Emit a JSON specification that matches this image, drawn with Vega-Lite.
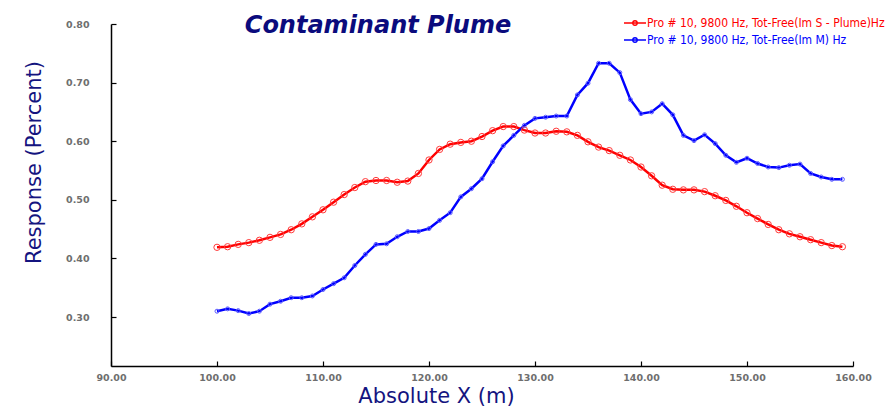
{
  "$schema": "https://vega.github.io/schema/vega-lite/v6.json",
  "width": 742,
  "height": 342,
  "autosize": {"type": "none"},
  "padding": {"left": 111, "top": 24, "right": 39, "bottom": 42},
  "background": "white",
  "config": {"view": {"stroke": null}},
  "title": {
    "text": "Contaminant Plume",
    "font": "DejaVu Sans",
    "fontSize": 24,
    "fontStyle": "italic",
    "fontWeight": "bold",
    "color": "#0b0b7d",
    "anchor": "middle",
    "frame": "group",
    "baseline": "alphabetic",
    "offset": 0,
    "dx": -104,
    "dy": 40
  },
  "data": {
    "values": [
      {"x":100,"y":0.419,"series":"Pro # 10, 9800 Hz, Tot-Free(Im S - Plume)Hz"},
      {"x":101,"y":0.420,"series":"Pro # 10, 9800 Hz, Tot-Free(Im S - Plume)Hz"},
      {"x":102,"y":0.424,"series":"Pro # 10, 9800 Hz, Tot-Free(Im S - Plume)Hz"},
      {"x":103,"y":0.427,"series":"Pro # 10, 9800 Hz, Tot-Free(Im S - Plume)Hz"},
      {"x":104,"y":0.431,"series":"Pro # 10, 9800 Hz, Tot-Free(Im S - Plume)Hz"},
      {"x":105,"y":0.436,"series":"Pro # 10, 9800 Hz, Tot-Free(Im S - Plume)Hz"},
      {"x":106,"y":0.441,"series":"Pro # 10, 9800 Hz, Tot-Free(Im S - Plume)Hz"},
      {"x":107,"y":0.449,"series":"Pro # 10, 9800 Hz, Tot-Free(Im S - Plume)Hz"},
      {"x":108,"y":0.459,"series":"Pro # 10, 9800 Hz, Tot-Free(Im S - Plume)Hz"},
      {"x":109,"y":0.471,"series":"Pro # 10, 9800 Hz, Tot-Free(Im S - Plume)Hz"},
      {"x":110,"y":0.483,"series":"Pro # 10, 9800 Hz, Tot-Free(Im S - Plume)Hz"},
      {"x":111,"y":0.496,"series":"Pro # 10, 9800 Hz, Tot-Free(Im S - Plume)Hz"},
      {"x":112,"y":0.509,"series":"Pro # 10, 9800 Hz, Tot-Free(Im S - Plume)Hz"},
      {"x":113,"y":0.521,"series":"Pro # 10, 9800 Hz, Tot-Free(Im S - Plume)Hz"},
      {"x":114,"y":0.531,"series":"Pro # 10, 9800 Hz, Tot-Free(Im S - Plume)Hz"},
      {"x":115,"y":0.533,"series":"Pro # 10, 9800 Hz, Tot-Free(Im S - Plume)Hz"},
      {"x":116,"y":0.533,"series":"Pro # 10, 9800 Hz, Tot-Free(Im S - Plume)Hz"},
      {"x":117,"y":0.530,"series":"Pro # 10, 9800 Hz, Tot-Free(Im S - Plume)Hz"},
      {"x":118,"y":0.532,"series":"Pro # 10, 9800 Hz, Tot-Free(Im S - Plume)Hz"},
      {"x":119,"y":0.545,"series":"Pro # 10, 9800 Hz, Tot-Free(Im S - Plume)Hz"},
      {"x":120,"y":0.568,"series":"Pro # 10, 9800 Hz, Tot-Free(Im S - Plume)Hz"},
      {"x":121,"y":0.586,"series":"Pro # 10, 9800 Hz, Tot-Free(Im S - Plume)Hz"},
      {"x":122,"y":0.595,"series":"Pro # 10, 9800 Hz, Tot-Free(Im S - Plume)Hz"},
      {"x":123,"y":0.598,"series":"Pro # 10, 9800 Hz, Tot-Free(Im S - Plume)Hz"},
      {"x":124,"y":0.600,"series":"Pro # 10, 9800 Hz, Tot-Free(Im S - Plume)Hz"},
      {"x":125,"y":0.608,"series":"Pro # 10, 9800 Hz, Tot-Free(Im S - Plume)Hz"},
      {"x":126,"y":0.618,"series":"Pro # 10, 9800 Hz, Tot-Free(Im S - Plume)Hz"},
      {"x":127,"y":0.625,"series":"Pro # 10, 9800 Hz, Tot-Free(Im S - Plume)Hz"},
      {"x":128,"y":0.625,"series":"Pro # 10, 9800 Hz, Tot-Free(Im S - Plume)Hz"},
      {"x":129,"y":0.619,"series":"Pro # 10, 9800 Hz, Tot-Free(Im S - Plume)Hz"},
      {"x":130,"y":0.614,"series":"Pro # 10, 9800 Hz, Tot-Free(Im S - Plume)Hz"},
      {"x":131,"y":0.614,"series":"Pro # 10, 9800 Hz, Tot-Free(Im S - Plume)Hz"},
      {"x":132,"y":0.617,"series":"Pro # 10, 9800 Hz, Tot-Free(Im S - Plume)Hz"},
      {"x":133,"y":0.616,"series":"Pro # 10, 9800 Hz, Tot-Free(Im S - Plume)Hz"},
      {"x":134,"y":0.610,"series":"Pro # 10, 9800 Hz, Tot-Free(Im S - Plume)Hz"},
      {"x":135,"y":0.599,"series":"Pro # 10, 9800 Hz, Tot-Free(Im S - Plume)Hz"},
      {"x":136,"y":0.590,"series":"Pro # 10, 9800 Hz, Tot-Free(Im S - Plume)Hz"},
      {"x":137,"y":0.584,"series":"Pro # 10, 9800 Hz, Tot-Free(Im S - Plume)Hz"},
      {"x":138,"y":0.576,"series":"Pro # 10, 9800 Hz, Tot-Free(Im S - Plume)Hz"},
      {"x":139,"y":0.568,"series":"Pro # 10, 9800 Hz, Tot-Free(Im S - Plume)Hz"},
      {"x":140,"y":0.556,"series":"Pro # 10, 9800 Hz, Tot-Free(Im S - Plume)Hz"},
      {"x":141,"y":0.541,"series":"Pro # 10, 9800 Hz, Tot-Free(Im S - Plume)Hz"},
      {"x":142,"y":0.525,"series":"Pro # 10, 9800 Hz, Tot-Free(Im S - Plume)Hz"},
      {"x":143,"y":0.518,"series":"Pro # 10, 9800 Hz, Tot-Free(Im S - Plume)Hz"},
      {"x":144,"y":0.517,"series":"Pro # 10, 9800 Hz, Tot-Free(Im S - Plume)Hz"},
      {"x":145,"y":0.517,"series":"Pro # 10, 9800 Hz, Tot-Free(Im S - Plume)Hz"},
      {"x":146,"y":0.514,"series":"Pro # 10, 9800 Hz, Tot-Free(Im S - Plume)Hz"},
      {"x":147,"y":0.507,"series":"Pro # 10, 9800 Hz, Tot-Free(Im S - Plume)Hz"},
      {"x":148,"y":0.499,"series":"Pro # 10, 9800 Hz, Tot-Free(Im S - Plume)Hz"},
      {"x":149,"y":0.489,"series":"Pro # 10, 9800 Hz, Tot-Free(Im S - Plume)Hz"},
      {"x":150,"y":0.478,"series":"Pro # 10, 9800 Hz, Tot-Free(Im S - Plume)Hz"},
      {"x":151,"y":0.468,"series":"Pro # 10, 9800 Hz, Tot-Free(Im S - Plume)Hz"},
      {"x":152,"y":0.458,"series":"Pro # 10, 9800 Hz, Tot-Free(Im S - Plume)Hz"},
      {"x":153,"y":0.449,"series":"Pro # 10, 9800 Hz, Tot-Free(Im S - Plume)Hz"},
      {"x":154,"y":0.442,"series":"Pro # 10, 9800 Hz, Tot-Free(Im S - Plume)Hz"},
      {"x":155,"y":0.437,"series":"Pro # 10, 9800 Hz, Tot-Free(Im S - Plume)Hz"},
      {"x":156,"y":0.432,"series":"Pro # 10, 9800 Hz, Tot-Free(Im S - Plume)Hz"},
      {"x":157,"y":0.427,"series":"Pro # 10, 9800 Hz, Tot-Free(Im S - Plume)Hz"},
      {"x":158,"y":0.422,"series":"Pro # 10, 9800 Hz, Tot-Free(Im S - Plume)Hz"},
      {"x":159,"y":0.420,"series":"Pro # 10, 9800 Hz, Tot-Free(Im S - Plume)Hz"},
      {"x":100,"y":0.310,"series":"Pro # 10, 9800 Hz, Tot-Free(Im M) Hz"},
      {"x":101,"y":0.314,"series":"Pro # 10, 9800 Hz, Tot-Free(Im M) Hz"},
      {"x":102,"y":0.311,"series":"Pro # 10, 9800 Hz, Tot-Free(Im M) Hz"},
      {"x":103,"y":0.306,"series":"Pro # 10, 9800 Hz, Tot-Free(Im M) Hz"},
      {"x":104,"y":0.310,"series":"Pro # 10, 9800 Hz, Tot-Free(Im M) Hz"},
      {"x":105,"y":0.322,"series":"Pro # 10, 9800 Hz, Tot-Free(Im M) Hz"},
      {"x":106,"y":0.327,"series":"Pro # 10, 9800 Hz, Tot-Free(Im M) Hz"},
      {"x":107,"y":0.333,"series":"Pro # 10, 9800 Hz, Tot-Free(Im M) Hz"},
      {"x":108,"y":0.333,"series":"Pro # 10, 9800 Hz, Tot-Free(Im M) Hz"},
      {"x":109,"y":0.336,"series":"Pro # 10, 9800 Hz, Tot-Free(Im M) Hz"},
      {"x":110,"y":0.347,"series":"Pro # 10, 9800 Hz, Tot-Free(Im M) Hz"},
      {"x":111,"y":0.357,"series":"Pro # 10, 9800 Hz, Tot-Free(Im M) Hz"},
      {"x":112,"y":0.367,"series":"Pro # 10, 9800 Hz, Tot-Free(Im M) Hz"},
      {"x":113,"y":0.388,"series":"Pro # 10, 9800 Hz, Tot-Free(Im M) Hz"},
      {"x":114,"y":0.407,"series":"Pro # 10, 9800 Hz, Tot-Free(Im M) Hz"},
      {"x":115,"y":0.424,"series":"Pro # 10, 9800 Hz, Tot-Free(Im M) Hz"},
      {"x":116,"y":0.425,"series":"Pro # 10, 9800 Hz, Tot-Free(Im M) Hz"},
      {"x":117,"y":0.437,"series":"Pro # 10, 9800 Hz, Tot-Free(Im M) Hz"},
      {"x":118,"y":0.446,"series":"Pro # 10, 9800 Hz, Tot-Free(Im M) Hz"},
      {"x":119,"y":0.446,"series":"Pro # 10, 9800 Hz, Tot-Free(Im M) Hz"},
      {"x":120,"y":0.451,"series":"Pro # 10, 9800 Hz, Tot-Free(Im M) Hz"},
      {"x":121,"y":0.465,"series":"Pro # 10, 9800 Hz, Tot-Free(Im M) Hz"},
      {"x":122,"y":0.478,"series":"Pro # 10, 9800 Hz, Tot-Free(Im M) Hz"},
      {"x":123,"y":0.505,"series":"Pro # 10, 9800 Hz, Tot-Free(Im M) Hz"},
      {"x":124,"y":0.519,"series":"Pro # 10, 9800 Hz, Tot-Free(Im M) Hz"},
      {"x":125,"y":0.536,"series":"Pro # 10, 9800 Hz, Tot-Free(Im M) Hz"},
      {"x":126,"y":0.565,"series":"Pro # 10, 9800 Hz, Tot-Free(Im M) Hz"},
      {"x":127,"y":0.592,"series":"Pro # 10, 9800 Hz, Tot-Free(Im M) Hz"},
      {"x":128,"y":0.610,"series":"Pro # 10, 9800 Hz, Tot-Free(Im M) Hz"},
      {"x":129,"y":0.627,"series":"Pro # 10, 9800 Hz, Tot-Free(Im M) Hz"},
      {"x":130,"y":0.639,"series":"Pro # 10, 9800 Hz, Tot-Free(Im M) Hz"},
      {"x":131,"y":0.641,"series":"Pro # 10, 9800 Hz, Tot-Free(Im M) Hz"},
      {"x":132,"y":0.643,"series":"Pro # 10, 9800 Hz, Tot-Free(Im M) Hz"},
      {"x":133,"y":0.643,"series":"Pro # 10, 9800 Hz, Tot-Free(Im M) Hz"},
      {"x":134,"y":0.679,"series":"Pro # 10, 9800 Hz, Tot-Free(Im M) Hz"},
      {"x":135,"y":0.699,"series":"Pro # 10, 9800 Hz, Tot-Free(Im M) Hz"},
      {"x":136,"y":0.733,"series":"Pro # 10, 9800 Hz, Tot-Free(Im M) Hz"},
      {"x":137,"y":0.733,"series":"Pro # 10, 9800 Hz, Tot-Free(Im M) Hz"},
      {"x":138,"y":0.717,"series":"Pro # 10, 9800 Hz, Tot-Free(Im M) Hz"},
      {"x":139,"y":0.671,"series":"Pro # 10, 9800 Hz, Tot-Free(Im M) Hz"},
      {"x":140,"y":0.647,"series":"Pro # 10, 9800 Hz, Tot-Free(Im M) Hz"},
      {"x":141,"y":0.650,"series":"Pro # 10, 9800 Hz, Tot-Free(Im M) Hz"},
      {"x":142,"y":0.664,"series":"Pro # 10, 9800 Hz, Tot-Free(Im M) Hz"},
      {"x":143,"y":0.645,"series":"Pro # 10, 9800 Hz, Tot-Free(Im M) Hz"},
      {"x":144,"y":0.610,"series":"Pro # 10, 9800 Hz, Tot-Free(Im M) Hz"},
      {"x":145,"y":0.601,"series":"Pro # 10, 9800 Hz, Tot-Free(Im M) Hz"},
      {"x":146,"y":0.611,"series":"Pro # 10, 9800 Hz, Tot-Free(Im M) Hz"},
      {"x":147,"y":0.596,"series":"Pro # 10, 9800 Hz, Tot-Free(Im M) Hz"},
      {"x":148,"y":0.576,"series":"Pro # 10, 9800 Hz, Tot-Free(Im M) Hz"},
      {"x":149,"y":0.564,"series":"Pro # 10, 9800 Hz, Tot-Free(Im M) Hz"},
      {"x":150,"y":0.571,"series":"Pro # 10, 9800 Hz, Tot-Free(Im M) Hz"},
      {"x":151,"y":0.562,"series":"Pro # 10, 9800 Hz, Tot-Free(Im M) Hz"},
      {"x":152,"y":0.556,"series":"Pro # 10, 9800 Hz, Tot-Free(Im M) Hz"},
      {"x":153,"y":0.555,"series":"Pro # 10, 9800 Hz, Tot-Free(Im M) Hz"},
      {"x":154,"y":0.559,"series":"Pro # 10, 9800 Hz, Tot-Free(Im M) Hz"},
      {"x":155,"y":0.561,"series":"Pro # 10, 9800 Hz, Tot-Free(Im M) Hz"},
      {"x":156,"y":0.545,"series":"Pro # 10, 9800 Hz, Tot-Free(Im M) Hz"},
      {"x":157,"y":0.539,"series":"Pro # 10, 9800 Hz, Tot-Free(Im M) Hz"},
      {"x":158,"y":0.535,"series":"Pro # 10, 9800 Hz, Tot-Free(Im M) Hz"},
      {"x":159,"y":0.535,"series":"Pro # 10, 9800 Hz, Tot-Free(Im M) Hz"}
    ]
  },
  "encoding": {
    "x": {
      "field": "x",
      "type": "quantitative",
      "scale": {"domain": [90, 160], "nice": false, "zero": false},
      "axis": {
        "values": [90, 100, 110, 120, 130, 140, 150, 160],
        "format": ".2f",
        "grid": false,
        "domainColor": "#000000",
        "domainWidth": 1.5,
        "tickColor": "#000000",
        "tickWidth": 1.2,
        "tickSize": -5,
        "labelFont": "DejaVu Sans",
        "labelFontSize": 9.5,
        "labelFontWeight": "bold",
        "labelColor": "#6e6e6e",
        "labelPadding": 11,
        "labelFlush": false,
        "title": "Absolute X (m)",
        "titleFont": "DejaVu Sans",
        "titleFontSize": 21,
        "titleFontWeight": "normal",
        "titleColor": "#14147f",
        "titleX": 325,
        "titleY": 36,
        "titleAlign": "center",
        "titleBaseline": "alphabetic"
      }
    },
    "y": {
      "field": "y",
      "type": "quantitative",
      "scale": {"domain": [0.2165, 0.8], "nice": false, "zero": false},
      "axis": {
        "values": [0.3, 0.4, 0.5, 0.6, 0.7, 0.8],
        "format": ".2f",
        "grid": false,
        "domainColor": "#000000",
        "domainWidth": 1.5,
        "tickColor": "#000000",
        "tickWidth": 1.2,
        "tickSize": -5,
        "labelFont": "DejaVu Sans",
        "labelFontSize": 9.5,
        "labelFontWeight": "bold",
        "labelColor": "#6e6e6e",
        "labelPadding": 27,
        "labelFlush": false,
        "title": "Response (Percent)",
        "titleFont": "DejaVu Sans",
        "titleFontSize": 21,
        "titleFontWeight": "normal",
        "titleColor": "#14147f",
        "titleAngle": -90,
        "titleX": -77,
        "titleY": 138,
        "titleAlign": "center",
        "titleBaseline": "middle"
      }
    }
  },
  "layer": [
    {
      "mark": {"type": "line", "strokeWidth": 2.5},
      "encoding": {
        "color": {
          "field": "series",
          "type": "nominal",
          "scale": {
            "domain": ["Pro # 10, 9800 Hz, Tot-Free(Im S - Plume)Hz", "Pro # 10, 9800 Hz, Tot-Free(Im M) Hz"],
            "range": ["#ff0000", "#0000ff"]
          },
          "legend": {
            "orient": "none",
            "legendX": 518,
            "legendY": -7,
            "title": null,
            "symbolType": "M-2.2,0H2.2M-0.45,0A0.45,0.45 0 1 1 0.45,0A0.45,0.45 0 1 1 -0.45,0",
            "symbolSize": 100,
            "symbolStrokeWidth": 1.3,
            "labelFont": "DejaVu Sans Condensed",
            "labelFontSize": 12,
            "labelLimit": 0,
            "labelOffset": 6,
            "rowPadding": 5,
            "padding": 0,
            "encode": {
              "labels": {"update": {"fill": {"scale": "color", "field": "value"}}},
              "symbols": {"update": {"fill": {"value": "transparent"}, "stroke": {"scale": "color", "field": "value"}, "strokeWidth": {"value": 1.3}}}
            }
          }
        }
      }
    },
    {
      "transform": [{"filter": "datum.series === 'Pro # 10, 9800 Hz, Tot-Free(Im S - Plume)Hz'"}],
      "mark": {"type": "point", "filled": false, "size": 40, "strokeWidth": 1, "color": "#ff3a3a", "opacity": 1},
      "encoding": {}
    },
    {
      "transform": [{"filter": "datum.series === 'Pro # 10, 9800 Hz, Tot-Free(Im M) Hz'"}],
      "mark": {"type": "point", "filled": false, "size": 16, "strokeWidth": 1, "color": "#5a5aff", "opacity": 1},
      "encoding": {}
    }
  ]
}
